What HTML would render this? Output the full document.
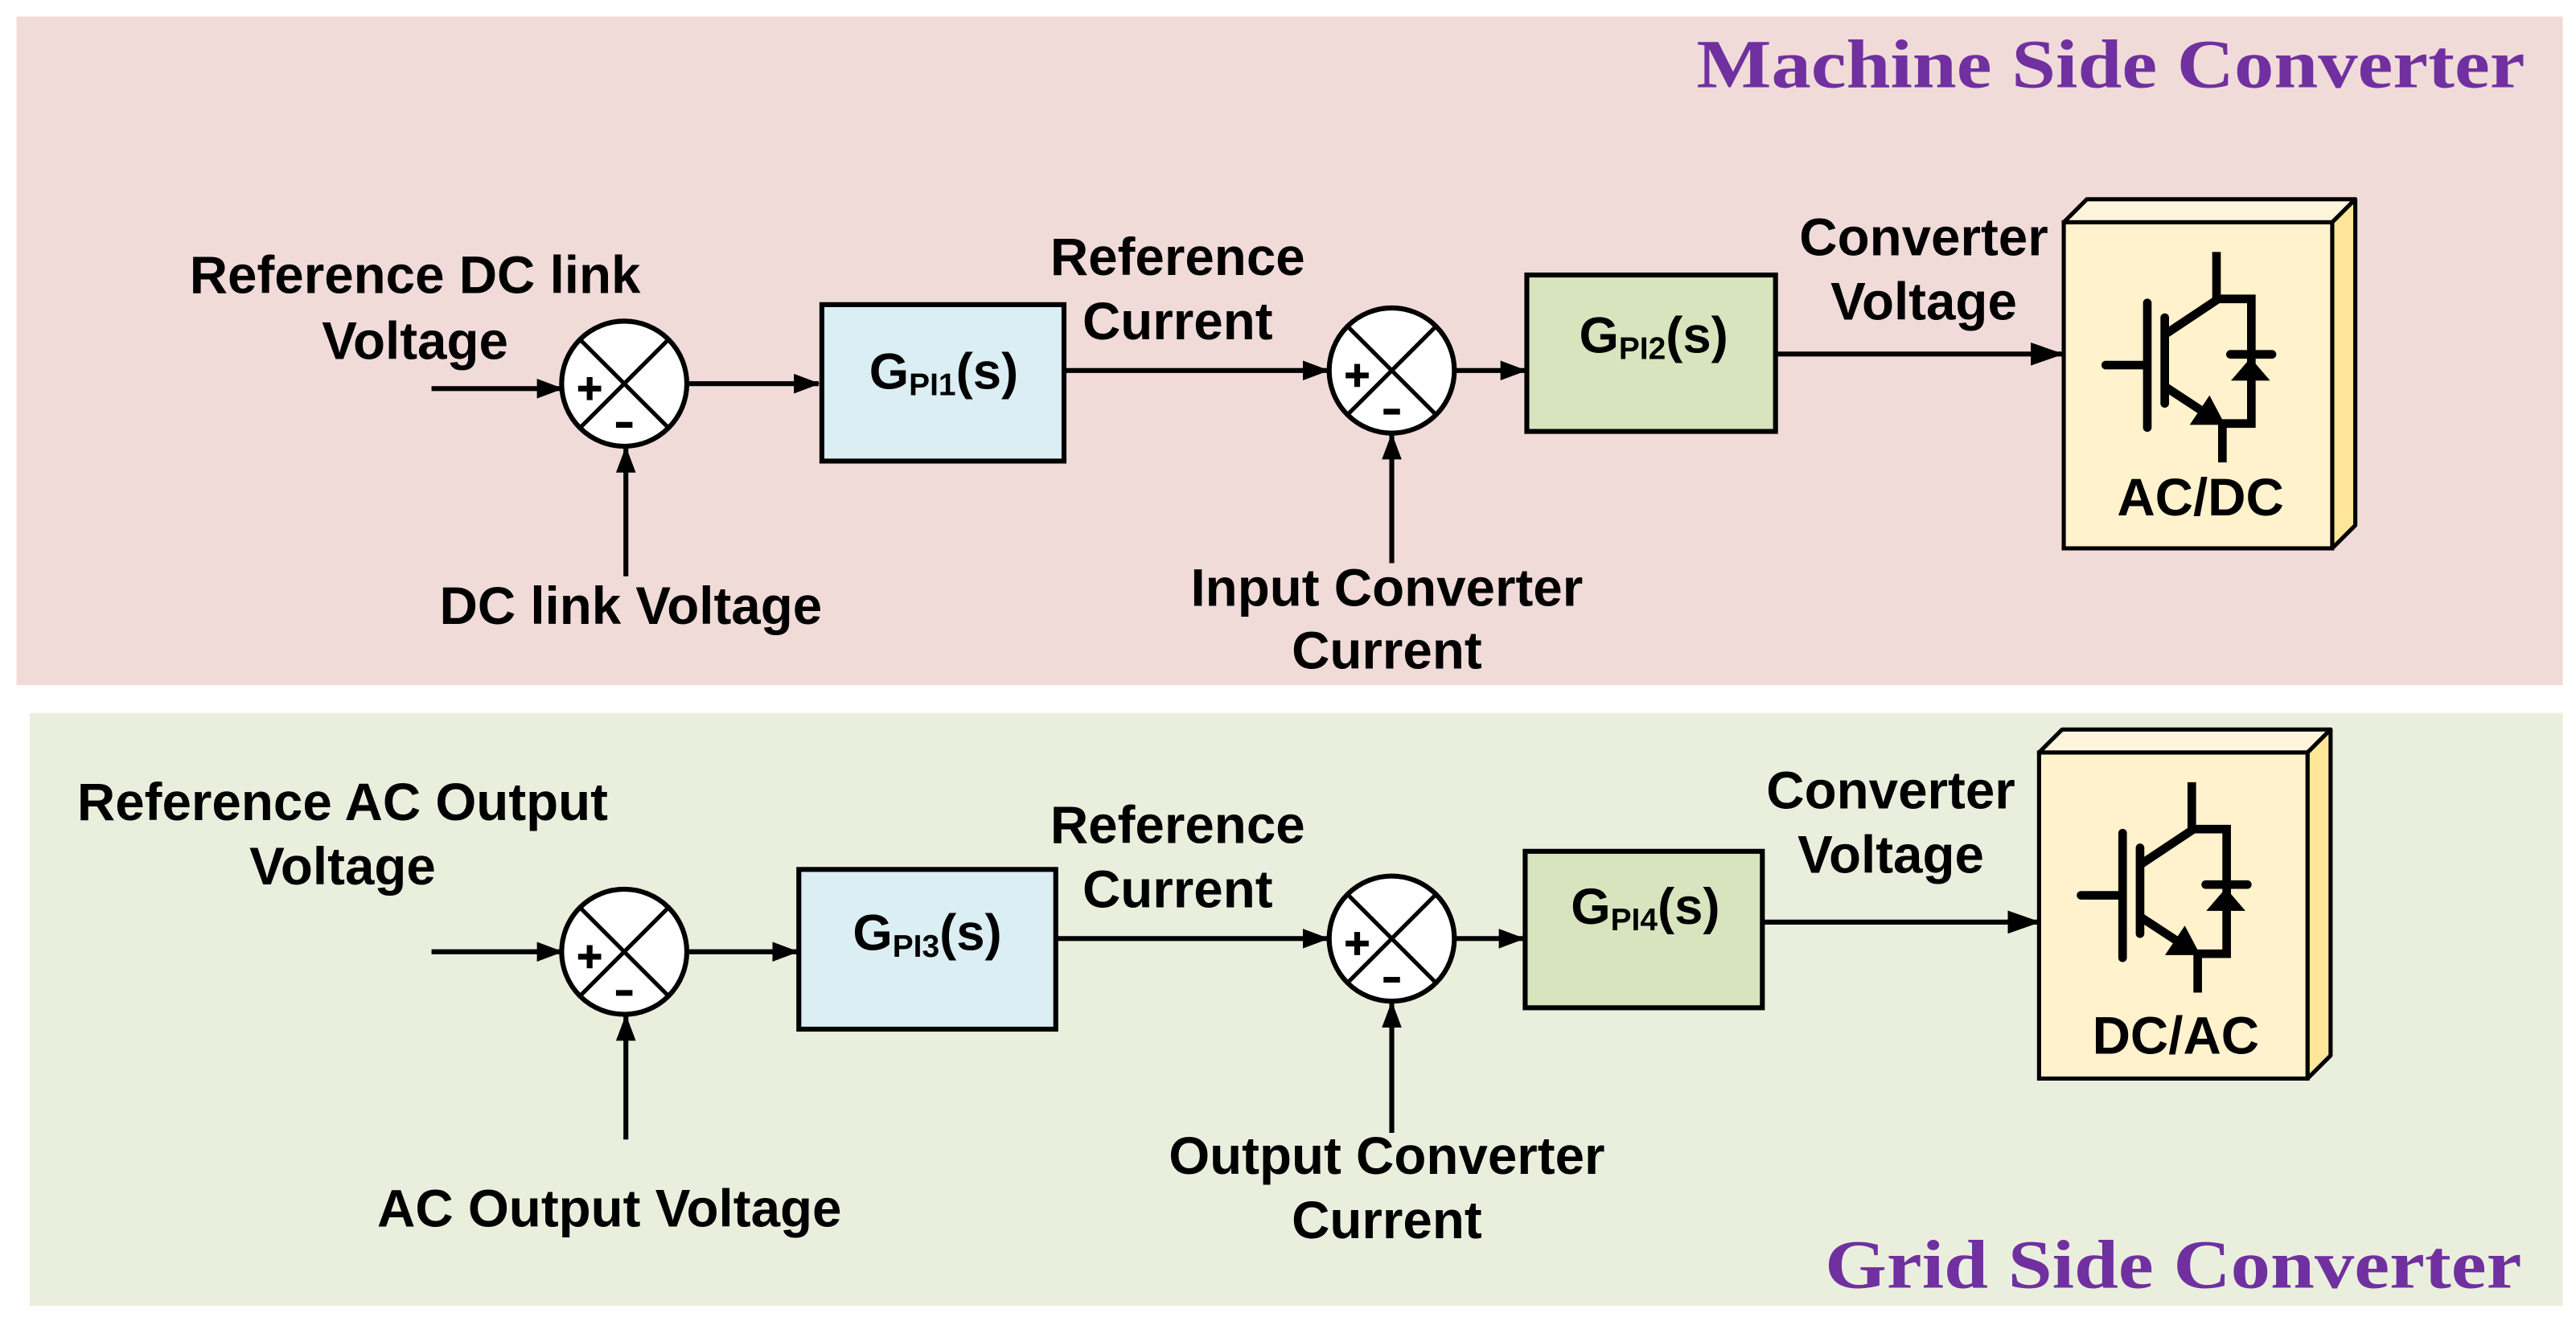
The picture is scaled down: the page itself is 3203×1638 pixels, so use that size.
<!DOCTYPE html>
<html><head><meta charset="utf-8"><style>
html,body{margin:0;padding:0;background:#fff;}
svg{display:block;}
text{font-family:"Liberation Sans",Arial,sans-serif;font-weight:bold;fill:#000;}
.t{font-size:32px;text-anchor:middle;}
.ttl{font-family:"Liberation Serif",serif;font-size:42px;fill:#7030a0;text-anchor:end;}
</style></head><body>
<svg width="3203" height="1638" viewBox="0 0 1564 799.8" xmlns="http://www.w3.org/2000/svg">
<defs>
<marker id="ar" markerWidth="16" markerHeight="12" refX="15" refY="6" orient="auto" markerUnits="userSpaceOnUse">
<path d="M0,0 L16,6 L0,12 z" fill="#000"/>
</marker>
<marker id="arb" markerWidth="20" markerHeight="14" refX="19" refY="7" orient="auto" markerUnits="userSpaceOnUse">
<path d="M0,0 L20,7 L0,14 z" fill="#000"/>
</marker>
<g id="sum">
<circle cx="0" cy="0" r="38" fill="#fff" stroke="#000" stroke-width="3"/>
<line x1="-27" y1="-27" x2="27" y2="27" stroke="#000" stroke-width="2.5"/>
<line x1="27" y1="-27" x2="-27" y2="27" stroke="#000" stroke-width="2.5"/>
<path d="M-28,3 h14 M-21,-4 v14" stroke="#000" stroke-width="3.5"/>
<path d="M-5,25 h10" stroke="#000" stroke-width="3.5"/>
</g>
<g id="conv">
<path d="M1253,135 L1267,121 L1430,121 L1416,135 z" fill="#fff5dc" stroke="#000" stroke-width="2.5" stroke-linejoin="round"/>
<path d="M1416,135 L1430,121 L1430,319 L1416,333 z" fill="#ffe699" stroke="#000" stroke-width="2.5" stroke-linejoin="round"/>
<rect x="1253" y="135" width="163" height="198" fill="#fff2cc" stroke="#000" stroke-width="2.5"/>
<g transform="translate(1220.7,97.66) scale(0.1628)" stroke="#000" stroke-width="32" fill="none">
<line x1="355" y1="762" x2="505" y2="762" stroke-linecap="round"/>
<line x1="510" y1="530" x2="510" y2="995" stroke-linecap="round"/>
<line x1="575" y1="585" x2="575" y2="905" stroke-linecap="round"/>
<line x1="580" y1="645" x2="775" y2="515"/>
<line x1="768" y1="340" x2="768" y2="515"/>
<path d="M765,515 H898 V980 H785"/>
<line x1="580" y1="845" x2="740" y2="950"/>
<line x1="790" y1="975" x2="790" y2="1125"/>
<line x1="820" y1="722" x2="975" y2="722" stroke-linecap="round"/>
</g>
<g transform="translate(1220.7,97.66) scale(0.1628)" fill="#000">
<path d="M668,985 L742,875 L800,985 z"/>
<path d="M822,820 L968,820 L895,735 z"/>
</g>
</g>
</defs>

<rect x="10" y="10" width="1546" height="406" fill="#f0dbd9"/>
<rect x="18" y="433" width="1538" height="360" fill="#eaefdd"/>
<text class="ttl" x="1533" y="53" textLength="503" lengthAdjust="spacingAndGlyphs">Machine Side Converter</text>
<text class="ttl" x="1531" y="782" textLength="423" lengthAdjust="spacingAndGlyphs">Grid Side Converter</text>

<g stroke="#000" stroke-width="3" fill="none">
<line x1="262" y1="236" x2="341" y2="236" marker-end="url(#ar)"/>
<line x1="380" y1="350" x2="380" y2="272" marker-end="url(#ar)"/>
<line x1="418" y1="233" x2="497" y2="233" marker-end="url(#ar)"/>
<line x1="647" y1="225" x2="806" y2="225" marker-end="url(#ar)"/>
<line x1="845" y1="342" x2="845" y2="264" marker-end="url(#ar)"/>
<line x1="884" y1="225" x2="926" y2="225" marker-end="url(#ar)"/>
<line x1="1078" y1="215" x2="1252" y2="215" marker-end="url(#arb)"/>
</g>
<use href="#sum" x="379" y="233"/>
<use href="#sum" x="845" y="225"/>
<rect x="499" y="185" width="147" height="95" fill="#daeef3" stroke="#000" stroke-width="3"/>
<rect x="927" y="167" width="151" height="95" fill="#d7e4bd" stroke="#000" stroke-width="3"/>
<text x="573" y="236" style="font-size:31px;text-anchor:middle">G<tspan style="font-size:19px" dy="4">PI1</tspan><tspan dy="-4">(s)</tspan></text>
<text x="1004" y="214" style="font-size:31px;text-anchor:middle">G<tspan style="font-size:19px" dy="4">PI2</tspan><tspan dy="-4">(s)</tspan></text>
<use href="#conv"/>
<text x="1336" y="313" class="t">AC/DC</text>

<text class="t" x="252" y="178">Reference DC link</text>
<text class="t" x="252" y="218">Voltage</text>
<text class="t" x="383" y="379">DC link Voltage</text>
<text class="t" x="715" y="167">Reference</text>
<text class="t" x="715" y="206">Current</text>
<text class="t" x="842" y="368">Input Converter</text>
<text class="t" x="842" y="406">Current</text>
<text class="t" x="1168" y="155">Converter</text>
<text class="t" x="1168" y="194">Voltage</text>

<g stroke="#000" stroke-width="3" fill="none">
<line x1="262" y1="578" x2="341" y2="578" marker-end="url(#ar)"/>
<line x1="380" y1="692" x2="380" y2="617" marker-end="url(#ar)"/>
<line x1="418" y1="578" x2="484" y2="578" marker-end="url(#ar)"/>
<line x1="641" y1="570" x2="806" y2="570" marker-end="url(#ar)"/>
<line x1="845" y1="688" x2="845" y2="609" marker-end="url(#ar)"/>
<line x1="884" y1="570" x2="925" y2="570" marker-end="url(#ar)"/>
<line x1="1070" y1="560" x2="1238" y2="560" marker-end="url(#arb)"/>
</g>
<use href="#sum" x="379" y="578"/>
<use href="#sum" x="845" y="570"/>
<rect x="485" y="528" width="156" height="97" fill="#daeef3" stroke="#000" stroke-width="3"/>
<rect x="926" y="517" width="144" height="95" fill="#d7e4bd" stroke="#000" stroke-width="3"/>
<text x="563" y="577" style="font-size:31px;text-anchor:middle">G<tspan style="font-size:19px" dy="4">PI3</tspan><tspan dy="-4">(s)</tspan></text>
<text x="999" y="561" style="font-size:31px;text-anchor:middle">G<tspan style="font-size:19px" dy="4">PI4</tspan><tspan dy="-4">(s)</tspan></text>
<use href="#conv" x="-15" y="322"/>
<text x="1321" y="640" class="t">DC/AC</text>

<text class="t" x="208" y="498">Reference AC Output</text>
<text class="t" x="208" y="537">Voltage</text>
<text class="t" x="370" y="745">AC Output Voltage</text>
<text class="t" x="715" y="512">Reference</text>
<text class="t" x="715" y="551">Current</text>
<text class="t" x="842" y="713">Output Converter</text>
<text class="t" x="842" y="752">Current</text>
<text class="t" x="1148" y="491">Converter</text>
<text class="t" x="1148" y="530">Voltage</text>
</svg>
</body></html>
